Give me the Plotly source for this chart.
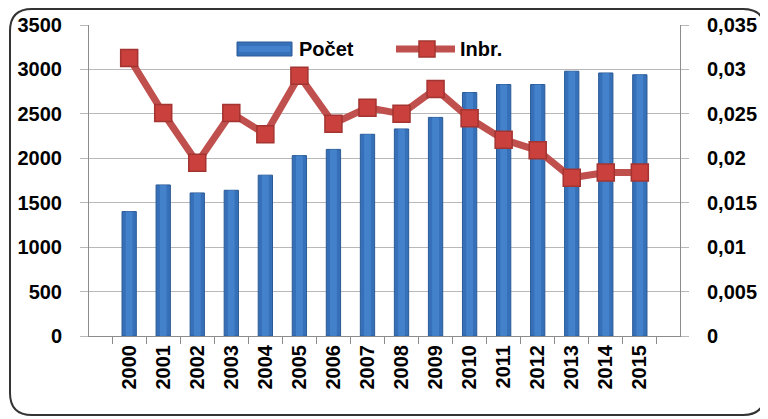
import plotly.graph_objects as go

roky = [str(r) for r in range(2000, 2016)]
pocet = [1400, 1700, 1610, 1640, 1810, 2030, 2100, 2270, 2330, 2460, 2740, 2830, 2830, 2980, 2960, 2940]
inbr = [0.0313, 0.0251, 0.0195, 0.0251, 0.0227, 0.0293, 0.0239, 0.0257, 0.0250, 0.0278,
        0.0245, 0.0221, 0.0209, 0.0178, 0.0184, 0.0184]

FONT = "Liberation Sans"
OKRAJ = 8  # stránka má okraj body 8 px
W, H = 768 - OKRAJ, 419 - OKRAJ
L, R, T, B = 89 - OKRAJ, 88, 25 - OKRAJ, 83
pw, ph = W - L - R, H - T - B
MODRA, SVETLA, CERVENA = "#3670B8", "#4A89D4", "#C0504D"


def px(x):  # pixel obrazovky -> paper
    return (x - OKRAJ - L) / pw


def py(y):
    return (T + ph - (y - OKRAJ)) / ph


fig = go.Figure()
fig.add_trace(go.Bar(
    x=roky, y=pocet, name="Počet", width=0.42,
    marker=dict(color=MODRA, line=dict(color="#2A5A96", width=1)),
))
fig.add_trace(go.Bar(
    x=roky, y=pocet, name="Počet", width=0.2, hoverinfo="skip",
    marker=dict(color=SVETLA, line=dict(width=0)), opacity=0.7,
))
fig.add_trace(go.Scatter(
    x=roky, y=inbr, name="Inbr.", yaxis="y2", mode="lines+markers",
    line=dict(color=CERVENA, width=7),
    marker=dict(symbol="square", size=17, color="#C9403D", line=dict(color="#A33431", width=1.5)),
))

# zaoblený rámeček okolo celého grafu
x0, x1, y0, y1 = px(10), px(765), py(415), py(9)
rx, ry = 22 / pw, 22 / ph
path = (f"M {x0 + rx},{y1} L {x1 - rx},{y1} Q {x1},{y1} {x1},{y1 - ry} "
        f"L {x1},{y0 + ry} Q {x1},{y0} {x1 - rx},{y0} L {x0 + rx},{y0} "
        f"Q {x0},{y0} {x0},{y0 + ry} L {x0},{y1 - ry} Q {x0},{y1} {x0 + rx},{y1} Z")

shapes = [
    dict(type="path", path=path, xref="paper", yref="paper",
         line=dict(color="#333333", width=2), layer="below"),
    # legenda: sloupec
    dict(type="rect", xref="paper", yref="paper", x0=px(237), x1=px(292), y0=py(56), y1=py(42),
         fillcolor=MODRA, line=dict(color="#2A5A96", width=1)),
    dict(type="rect", xref="paper", yref="paper", x0=px(239), x1=px(290), y0=py(52), y1=py(46),
         fillcolor=SVETLA, opacity=0.7, line=dict(width=0)),
    # legenda: čára se značkou
    dict(type="line", xref="paper", yref="paper", x0=px(396), x1=px(455), y0=py(49), y1=py(49),
         line=dict(color=CERVENA, width=7)),
    dict(type="rect", xref="paper", yref="paper", x0=px(419), x1=px(435), y0=py(57), y1=py(41),
         fillcolor="#C9403D", line=dict(color="#A33431", width=1.5)),
]
legenda = [
    dict(text="Počet", x=px(297), y=py(49), xref="paper", yref="paper", xanchor="left",
         yanchor="middle", showarrow=False, font=dict(family=FONT, size=20, weight="bold")),
    dict(text="Inbr.", x=px(458), y=py(49), xref="paper", yref="paper", xanchor="left",
         yanchor="middle", showarrow=False, font=dict(family=FONT, size=20, weight="bold")),
]

tf = dict(family=FONT, size=20, weight="bold", color="black")
fig.update_layout(
    width=W, height=H, margin=dict(l=L, r=R, t=T, b=B),
    paper_bgcolor="white", plot_bgcolor="white",
    separators=", ", showlegend=False, barmode="overlay",
    font=dict(family=FONT, size=20, color="black"),
    xaxis=dict(type="category", tickangle=-90, showline=True, linecolor="#8C8C8C",
               ticks="outside", tickson="boundaries", ticklen=7, tickcolor="#8C8C8C",
               tickfont=tf, showgrid=False, automargin=False),
    yaxis=dict(range=[0, 3500], dtick=500, showline=True, linecolor="#8C8C8C",
               gridcolor="#B8B8B8", ticks="outside", ticklen=8, tickcolor="#B8B8B8",
               tickfont=tf, zeroline=False, ticklabelstandoff=14, automargin=False),
    yaxis2=dict(range=[0, 0.035], dtick=0.005, overlaying="y", side="right",
                showline=True, linecolor="#8C8C8C", showgrid=False, ticks="outside",
                ticklen=8, tickcolor="#B8B8B8", zeroline=False, tickfont=tf,
                ticklabelstandoff=14, automargin=False),
    shapes=shapes, annotations=legenda,
)

fig.write_html("out.html")
